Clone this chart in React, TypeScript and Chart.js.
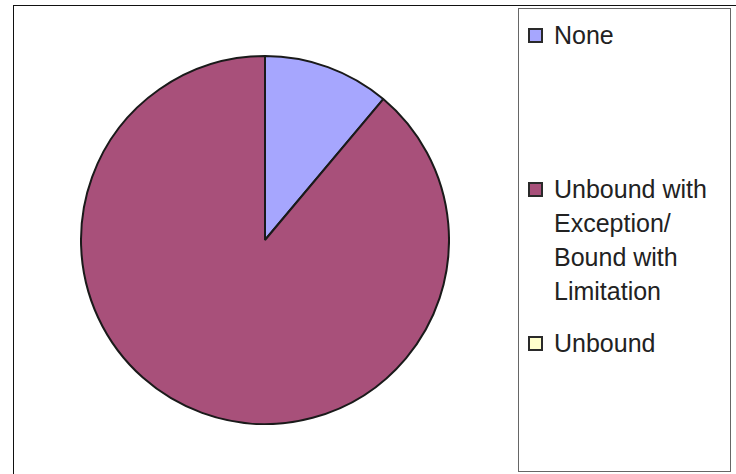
import React, { useEffect, useRef } from "react";
import { Chart, registerables } from "chart.js";

Chart.register(...registerables);

const categories = ["None", "Unbound with Exception/ Bound with Limitation", "Unbound"];
const legendLines = [["None"], ["Unbound with", "Exception/", "Bound with", "Limitation"], ["Unbound"]];
const values = [1, 8, 0];
const sliceColors = ["#a6a6fe", "#a8507a", "#ffffcc"];
const legendTops = [18, 172, 326];

export default function App() {
  const ref = useRef<HTMLCanvasElement | null>(null);

  useEffect(() => {
    document.body.style.margin = "0";
    if (!ref.current) return;
    const chart = new Chart(ref.current, {
      type: "pie",
      data: {
        labels: categories,
        datasets: [
          {
            data: values,
            backgroundColor: sliceColors,
            borderColor: "#1a1a1a",
            borderWidth: 2,
          },
        ],
      },
      options: {
        animation: false,
        responsive: false,
        maintainAspectRatio: false,
        layout: { padding: 0 },
        plugins: {
          legend: { display: false },
          tooltip: { enabled: false },
        },
      },
    });
    return () => chart.destroy();
  }, []);

  return (
    <div
      style={{
        position: "relative",
        width: 736,
        height: 474,
        overflow: "hidden",
        background: "#ffffff",
        fontFamily: "'Liberation Sans', Arial, sans-serif",
      }}
    >
      <div
        style={{
          position: "absolute",
          left: 13,
          top: 5,
          width: 800,
          height: 600,
          borderTop: "1px solid #111",
          borderLeft: "1px solid #111",
        }}
      />
      <canvas
        ref={ref}
        width={370}
        height={370}
        style={{ position: "absolute", left: 80, top: 55, width: 370, height: 370 }}
      />
      <div
        style={{
          position: "absolute",
          left: 518,
          top: 8,
          width: 213,
          height: 464,
          border: "1px solid #666",
          boxSizing: "border-box",
          background: "#ffffff",
        }}
      />
      {legendLines.map((lines, i) => (
        <div key={i}>
          <div
            style={{
              position: "absolute",
              left: 528,
              top: legendTops[i] + 10,
              width: 15,
              height: 15,
              boxSizing: "border-box",
              border: "2px solid #2a2a2a",
              background: sliceColors[i],
            }}
          />
          <div
            style={{
              position: "absolute",
              left: 554,
              top: legendTops[i],
              fontSize: 25,
              lineHeight: "34px",
              color: "#222",
              whiteSpace: "nowrap",
            }}
          >
            {lines.map((l, j) => (
              <div key={j}>{l}</div>
            ))}
          </div>
        </div>
      ))}
    </div>
  );
}
